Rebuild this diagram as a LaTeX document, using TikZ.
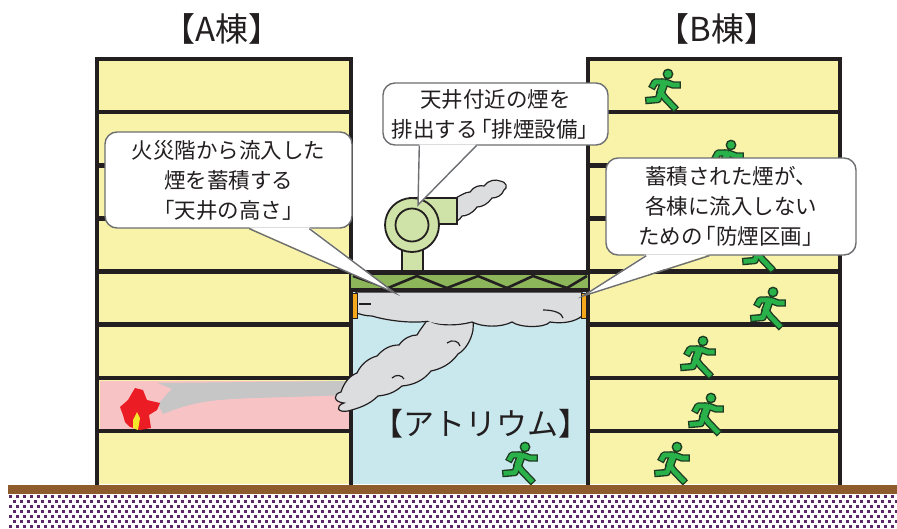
\documentclass[tikz,border=0pt]{standalone}
\usepackage{fontspec}
\newfontfamily\jp{Noto Sans CJK JP}
\usetikzlibrary{calc}

\definecolor{ink}{HTML}{231F20}
\definecolor{wall}{HTML}{F8F3A9}
\definecolor{atriumsky}{HTML}{C9E8EE}
\definecolor{truss}{HTML}{8DB65B}
\definecolor{fanbody}{HTML}{CFE3A8}
\definecolor{smoke}{HTML}{DCDDDF}
\definecolor{smokedark}{HTML}{C6C6C7}
\definecolor{firefloor}{HTML}{F8C3C5}
\definecolor{flame}{HTML}{EC1C24}
\definecolor{flamecore}{HTML}{F4E62A}
\definecolor{barrier}{HTML}{F6A81C}
\definecolor{soil}{HTML}{8E5B2C}
\definecolor{gravel}{HTML}{5C2769}
\definecolor{runner}{HTML}{2AB24A}
\definecolor{runedge}{HTML}{1E3B22}
\definecolor{calloutedge}{HTML}{6D6E71}

% opening corner bracket set tight against the preceding character
\newcommand{\obr}{\kern-.35em「}

\tikzset{
  runnerfig/.pic={
    \foreach \w/\t/\c/\s in {7.4/9.0/runedge/-1.3, 4.6/6.2/runner/0}{
      \draw[line width=\t pt, draw=\c, shorten <=\s pt, shorten >=\s pt] (-3,7) -- (-7.5,19);
      \draw[line width=\w pt, draw=\c, line join=round, shorten <=\s pt, shorten >=\s pt] (-3,8) -- (-13,8) -- (-16,13.5);
      \draw[line width=\w pt, draw=\c, line join=round, shorten <=\s pt, shorten >=\s pt] (-3,8) -- (5,11) -- (11.5,11);
      \draw[line width=\w pt, draw=\c, line join=round, shorten <=\s pt, shorten >=\s pt] (-7.5,18) -- (-10,25.5) -- (-21.5,26.5);
      \draw[line width=\w pt, draw=\c, line join=round, shorten <=\s pt, shorten >=\s pt] (-7.5,18) -- (-3,24) -- (7.5,35);
    }
    \filldraw[fill=runner, draw=runedge, line width=1.4pt] (0,0) circle (4.7);
  }
}

\begin{document}
\begin{tikzpicture}[x=1pt,y=-1pt,
  wallline/.style={draw=ink, line width=4.5pt},
  floorline/.style={draw=ink, line width=4.5pt},
  smokeline/.style={draw=ink, line width=1.2pt},
  callout/.style={draw=calloutedge, line width=1.4pt, fill=white, rounded corners=12pt,
    font=\jp\fontsize{21.5}{30}\selectfont, text=ink, align=center, inner sep=0pt},
  pointer/.style={draw=calloutedge, line width=1.4pt, line join=miter},
  heading/.style={font=\jp\fontsize{33}{36}\selectfont, text=ink, inner sep=0pt}]

\useasboundingbox (0,0) rectangle (897,528);
\fill[white] (0,0) rectangle (897,528);

% ---------- atrium void ----------
\fill[atriumsky] (351,290) rectangle (588,484);

% ---------- building A ----------
\fill[wall] (97,59) rectangle (351,484);
\fill[firefloor] (99.5,380.5) rectangle (348.5,428.5);
\foreach \k in {1,...,7}
  \draw[floorline] (97,{59+53.125*\k}) -- (351,{59+53.125*\k});
\draw[wallline] (97,486) -- (97,59) -- (351,59) -- (351,486);

% smoke spreading through the fire floor
\fill[smokedark] (158,383) -- (349,381) -- (349,395) -- (290,397)
  .. controls (250,398) and (225,399) .. (210,401)
  .. controls (195,403) and (180,407) .. (163,414)
  -- (158,404) .. controls (164,398) and (168,392) .. (172,389) -- cycle;

% fire
\fill[flame] (135,388) -- (143,390) -- (147,400) -- (160,403) -- (157,410) -- (149,415)
  -- (151,428) -- (140,430) -- (130,427) -- (125,422) -- (123,415) -- (120,407)
  -- (128,400) -- (132,393) -- cycle;
\fill[flamecore] (137,412) -- (140,418) -- (138,430) -- (133,428) -- (133,420) -- cycle;

% ---------- building B ----------
\fill[wall] (588,59) rectangle (840,484);
\foreach \k in {1,...,7}
  \draw[floorline] (588,{59+53.125*\k}) -- (840,{59+53.125*\k});
\draw[wallline] (588,486) -- (588,59) -- (840,59) -- (840,486);

% ---------- atrium roof truss ----------
\fill[truss] (351,274) rectangle (588,289);
\draw[ink, line width=2.6pt, line join=miter]
  (353,276) -- (388,288) -- (417,276) -- (447,288) -- (478,276)
  -- (507,288) -- (533,276) -- (567,288) -- (587,276);
\draw[floorline] (351,272.5) -- (588,272.5);
\draw[ink, line width=4pt] (351,290) -- (588,290);

% ---------- exhaust fan ----------
\filldraw[fill=smoke, smokeline] (452,200) .. controls (460,196) and (465,192) .. (470,192)
  .. controls (474,186) and (480,185) .. (484,186)
  .. controls (488,180) and (496,179) .. (500,181)
  .. controls (507,182) and (508,188) .. (504,190)
  .. controls (502,196) and (496,198) .. (492,198)
  .. controls (488,204) and (482,207) .. (477,207)
  .. controls (472,214) and (466,216) .. (462,216)
  .. controls (460,220) and (456,222) .. (452,222) -- cycle;
\filldraw[fill=fanbody, draw=ink, line width=1.8pt] (402,238) rectangle (423,271);
\filldraw[fill=fanbody, draw=ink, line width=1.8pt] (410,198) rectangle (457,224);
\filldraw[fill=fanbody, draw=ink, line width=1.8pt] (412,225) circle (27);
\draw[ink, line width=1.8pt] (412,225) circle (16.5);

% ---------- smoke plume rising into the atrium ----------
\filldraw[fill=smoke, smokeline] (474,310) -- (473,330)
  .. controls (471,341) and (465,350) .. (458,354)
  .. controls (451,364) and (441,369) .. (431,371)
  .. controls (423,381) and (413,385) .. (402,386)
  .. controls (394,393) and (387,395) .. (378,396)
  .. controls (369,405) and (359,408) .. (348,411)
  .. controls (337,413) and (335,406) .. (344,403)
  .. controls (333,402) and (333,394) .. (341,392)
  .. controls (344,383) and (349,376) .. (357,373)
  .. controls (361,364) and (369,358) .. (377,356)
  .. controls (384,348) and (391,345) .. (399,345)
  .. controls (404,338) and (411,335) .. (417,335)
  .. controls (421,328) and (425,324) .. (427,320) -- (427,310) -- cycle;
\draw[smokeline] (447,343) .. controls (452,339) and (459,341) .. (460,346);
\draw[smokeline] (392,378) .. controls (396,374) and (402,375) .. (404,379);

% smoke layer collected under the ceiling
\filldraw[fill=smoke, smokeline] (356,292) -- (582,292) -- (582,316)
  .. controls (575,322) and (562,324) .. (550,322)
  .. controls (545,328) and (520,328) .. (512,322)
  .. controls (500,328) and (482,327) .. (472,322)
  .. controls (457,326) and (438,326) .. (430,321)
  .. controls (410,324) and (385,320) .. (372,316)
  .. controls (365,316) and (360,314) .. (356,313) -- cycle;
\fill[smoke] (430,300) rectangle (471,321);
\fill[smoke] (472,310) -- (428,310) -- (428,321) .. controls (437,325) and (457,325) .. (471,321) -- cycle;
\draw[smokeline] (359,304) -- (371,304);
\draw[smokeline] (543,310) .. controls (554,310) and (562,313) .. (563,318);

% smoke barriers at the ceiling edges
\filldraw[fill=barrier, draw=ink, line width=0.8pt] (352.5,293) rectangle (357,318);
\filldraw[fill=barrier, draw=ink, line width=0.8pt] (581.5,293) rectangle (586,318);

% ---------- evacuees ----------
\pic at (525,447) {runnerfig};
\pic at (668,74) {runnerfig};
\pic at (731,145) {runnerfig};
\pic at (765,235) {runnerfig};
\pic at (773,292) {runnerfig};
\pic at (703,341) {runnerfig};
\pic at (711,398) {runnerfig};
\pic at (677,447) {runnerfig};

% ---------- labels ----------
\node[heading] (titleA) at (222,29) {【A棟】};
\node[heading] (titleB) at (717,29) {【B棟】};
\node[heading, font=\jp\fontsize{31}{34}\selectfont] (atriumlabel) at (481,424) {【アトリウム】};

% ---------- ground ----------
\fill[white] (0,494) rectangle (897,528);
\fill[soil] (8,484.5) rectangle (897,494);
\foreach \j in {0,...,6}{
  \pgfmathsetmacro\yy{495+5*\j}
  \pgfmathsetmacro\off{mod(\j,2)*3.5}
  \foreach \i in {0,...,126}
    \fill[gravel] ({9+\off+7*\i},\yy) rectangle ++(3.2,3.2);
}

% ---------- callouts ----------
\node[callout, minimum width=225pt, minimum height=62pt] (c1) at (495.5,114)
  {天井付近の煙を\\排出する\obr 排煙設備」};
\node[callout, minimum width=247pt, minimum height=96pt] (c2) at (228.5,180)
  {火災階から流入した\\煙を蓄積する\\「天井の高さ」};
\node[callout, minimum width=250pt, minimum height=97pt] (c3) at (731,206.5)
  {蓄積された煙が、\\各棟に流入しない\\ための\obr 防煙区画」};

\coordinate (fanpoint) at (418,205);
\coordinate (ceilpoint) at (395,293);
\coordinate (barrierpoint) at (583,296);

\fill[white] ($(c1.south west)+(37,-1.3)$) -- (fanpoint) -- ($(c1.south west)+(94,-1.3)$) -- cycle;
\draw[pointer] ($(c1.south west)+(37,0)$) -- (fanpoint) -- ($(c1.south west)+(94,0)$);

\fill[white] ($(c2.south west)+(145,-1.3)$) -- (ceilpoint) -- ($(c2.south west)+(205,-1.3)$) -- cycle;
\draw[pointer] ($(c2.south west)+(145,0)$) -- (ceilpoint) -- ($(c2.south west)+(205,0)$);

\fill[white] ($(c3.south west)+(41,-1.3)$) -- (barrierpoint) -- ($(c3.south west)+(104,-1.3)$) -- cycle;
\draw[pointer] ($(c3.south west)+(41,0)$) -- (barrierpoint) -- ($(c3.south west)+(104,0)$);

\end{tikzpicture}
\end{document}
